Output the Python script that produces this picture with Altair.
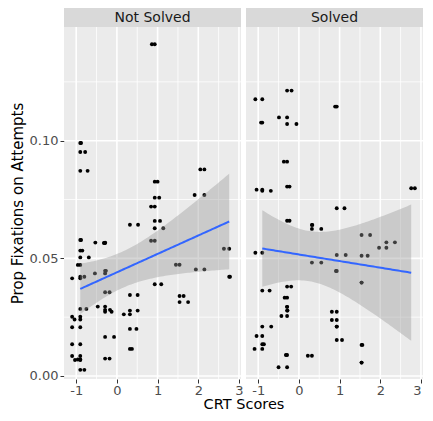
import numpy as np
import pandas as pd
import altair as alt

# ---------------- data ----------------
PANELS = ["Not Solved", "Solved"]

# Not Solved: CRT level (x used by the smoother), proportion, jittered x copy
ns_level = [0.93, -0.90, -0.90, -0.90, 2.15, 0.93, 2.15, 0.93, 0.93, 0.93,
            0.93, 0.32, 0.93, -0.90, -0.29, -0.29, -0.90, -0.90, -0.90, 2.76,
            1.54, 2.15, -0.29, -0.29, -0.90, -0.90, 2.76, 0.93, -0.29, 0.32,
            1.54, 1.54, -0.90, -0.29, -0.29, -0.29, 0.32, 0.32, -0.90, -0.90,
            -0.90, 0.32, -0.29, 0.32, -0.90, -0.90, -0.90, -0.90, -0.29, -0.90]
ns_prop = [0.1410, 0.0990, 0.0952, 0.0872, 0.0878, 0.0826, 0.0769, 0.0758, 0.0720, 0.0659,
           0.0628, 0.0643, 0.0575, 0.0578, 0.0567, 0.0565, 0.0533, 0.0504, 0.0472, 0.0541,
           0.0473, 0.0453, 0.0447, 0.0436, 0.0422, 0.0415, 0.0422, 0.0390, 0.0356, 0.0344,
           0.0340, 0.0314, 0.0285, 0.0295, 0.0281, 0.0273, 0.0278, 0.0262, 0.0252, 0.0240,
           0.0207, 0.0200, 0.0166, 0.0115, 0.0135, 0.0085, 0.0068, 0.0070, 0.0074, 0.0026]
ns_jitter = [0.86, -0.88, -0.78, -0.72, 2.05, 1.00, 1.91, 1.04, 0.84, 1.06,
             1.14, 0.52, 0.84, -0.88, -0.53, -0.32, -0.85, -0.69, -0.96, 2.63,
             1.45, 1.94, -0.27, -0.54, -0.80, -1.10, 2.78, 1.09, -0.18, 0.51,
             1.64, 1.75, -0.75, -0.47, -0.17, -0.13, 0.51, 0.17, -1.10, -1.04,
             -1.10, 0.48, -0.07, 0.37, -1.10, -1.10, -1.03, -0.96, -0.18, -0.80]

# Solved
s_level = [-0.29, -0.90, 0.93, -0.29, -0.90, -0.29, -0.29, -0.90, -0.90, -0.29,
           2.76, 0.93, -0.29, 0.32, 0.32, 1.54, 2.15, 2.15, -0.90, 0.93,
           1.54, 0.32, 0.93, 1.54, -0.90, -0.29, -0.29, -0.29, -0.29, -0.29,
           0.93, 0.93, 0.93, -0.90, -0.90, -0.90, -0.90, 0.93, -0.29, 0.32,
           -0.29, 1.54, 1.54]
s_prop = [0.1213, 0.1176, 0.1145, 0.1099, 0.1077, 0.1071, 0.0911, 0.0792, 0.0787, 0.0805,
          0.0798, 0.0713, 0.0660, 0.0642, 0.0625, 0.0599, 0.0568, 0.0545, 0.0524, 0.0514,
          0.0511, 0.0482, 0.0446, 0.0397, 0.0363, 0.0380, 0.0333, 0.0294, 0.0278, 0.0255,
          0.0273, 0.0238, 0.0210, 0.0210, 0.0170, 0.0135, 0.0115, 0.0153, 0.0089, 0.0086,
          0.0037, 0.0132, 0.0057]
s_jitter = [-0.18, -1.07, 0.89, -0.49, -0.93, -0.06, -0.37, -1.04, -0.69, -0.23,
            2.85, 1.12, -0.23, 0.33, 0.55, 1.75, 2.36, 1.97, -1.07, 1.15,
            1.69, 0.55, 0.91, 1.54, -0.72, -0.19, -0.35, -0.29, -0.28, -0.43,
            0.81, 0.81, 0.93, -0.68, -1.04, -0.86, -1.09, 1.06, -0.32, 0.22,
            -0.50, 1.56, 1.54]

X_TICKS = [-1, 0, 1, 2, 3]
X_MINOR = [-0.5, 0.5, 1.5, 2.5]
Y_TICKS = [0.0, 0.05, 0.10]
Y_MINOR = [0.025, 0.075, 0.125]

# ---------------- styling ----------------
X_DOMAIN = [-1.3, 3.05]
Y_DOMAIN = [-0.00128, 0.14832]
W, H, STRIP = 177, 352, 19
FONT = "DejaVu Sans"


def t975(df):
    z = 1.959964
    return z + (z ** 3 + z) / (4 * df) + (5 * z ** 5 + 16 * z ** 3 + 3 * z) / (96 * df ** 2)


def smooth(level, prop):
    """Linear fit with 95% confidence band (like geom_smooth(method='lm'))."""
    x = np.asarray(level, float)
    y = np.asarray(prop, float)
    n = len(x)
    xm = x.mean()
    sxx = ((x - xm) ** 2).sum()
    b1 = ((x - xm) * (y - y.mean())).sum() / sxx
    b0 = y.mean() - b1 * xm
    resid = y - (b0 + b1 * x)
    s2 = (resid ** 2).sum() / (n - 2)
    xg = np.linspace(x.min(), x.max(), 80)
    fit = b0 + b1 * xg
    se = np.sqrt(s2 * (1.0 / n + (xg - xm) ** 2 / sxx))
    t = t975(n - 2)
    return pd.DataFrame({"x": xg, "fit": fit, "lo": fit - t * se, "hi": fit + t * se})


def make_panel(label, level, prop, jitter, left):
    pts = pd.DataFrame({"x": list(level) + list(jitter), "y": list(prop) + list(prop)})
    band = smooth(level, prop)
    xs = alt.Scale(domain=X_DOMAIN, nice=False, zero=False)
    ys = alt.Scale(domain=Y_DOMAIN, nice=False, zero=False)
    common = dict(values=X_TICKS, grid=False, domain=False, tickColor="#333333",
                  tickSize=4, tickWidth=1, labelColor="#4D4D4D", labelFontSize=13,
                  labelFont=FONT, labelPadding=1, labelExpr="'' + datum.value",
                  titleFont=FONT, titleFontSize=14.5, titleFontWeight="normal",
                  titleColor="#000000", titlePadding=0)
    if left:
        xaxis = alt.Axis(title="CRT Scores", titleX=W + 2.5, titleAlign="center", **common)
        yaxis = alt.Axis(title="Prop Fixations on Attempts", values=Y_TICKS, format=".2f",
                         grid=False, domain=False, tickColor="#333333", tickSize=4,
                         tickWidth=1, labelColor="#4D4D4D", labelFontSize=13,
                         labelFont=FONT, labelPadding=2, titleFont=FONT, titleFontSize=15,
                         titleFontWeight="normal", titleColor="#000000", titlePadding=4)
    else:
        xaxis = alt.Axis(title="", labelFlush=3, **common)
        yaxis = None

    X = lambda f: alt.X(f, type="quantitative", scale=xs, axis=xaxis)
    Y = lambda f: alt.Y(f, type="quantitative", scale=ys, axis=yaxis)

    vmaj = alt.Chart(pd.DataFrame({"x": X_TICKS})).mark_rule(color="white", strokeWidth=1.6).encode(x=X("x"))
    vmin = alt.Chart(pd.DataFrame({"x": X_MINOR})).mark_rule(color="white", strokeWidth=0.8).encode(x=X("x"))
    hmaj = alt.Chart(pd.DataFrame({"y": Y_TICKS})).mark_rule(color="white", strokeWidth=1.6).encode(y=Y("y"))
    hmin = alt.Chart(pd.DataFrame({"y": Y_MINOR})).mark_rule(color="white", strokeWidth=0.8).encode(y=Y("y"))

    points = alt.Chart(pts).mark_circle(color="black", size=15, opacity=1).encode(x=X("x"), y=Y("y"))
    area = alt.Chart(band).mark_area(color="#999999", opacity=0.4).encode(
        x=X("x"), y=Y("lo"), y2="hi")
    line = alt.Chart(band).mark_line(color="#3366FF", strokeWidth=2).encode(x=X("x"), y=Y("fit"))

    lab = pd.DataFrame({"label": [label]})
    strip = alt.Chart(lab).mark_rect(color="#D9D9D9").encode(
        x=alt.value(0), x2=alt.value(W), y=alt.value(-STRIP), y2=alt.value(0))
    strip_text = alt.Chart(lab).mark_text(font=FONT, fontSize=14, color="#1A1A1A",
                                           baseline="middle", align="center").encode(
        x=alt.value(W / 2), y=alt.value(-STRIP / 2 + 0.5), text="label:N")

    return alt.layer(vmin, hmin, vmaj, hmaj, points, area, line, strip, strip_text).properties(
        width=W, height=H)


left = make_panel(PANELS[0], ns_level, ns_prop, ns_jitter, True)
right = make_panel(PANELS[1], s_level, s_prop, s_jitter, False)

chart = alt.hconcat(left, right, spacing=5, bounds="flush").properties(
    padding={"left": 2, "top": 0, "right": 0, "bottom": 0},
    background="white",
).configure_view(fill="#EBEBEB", strokeWidth=0)

chart.save("out.html", embed_options={"renderer": "svg", "actions": False})
